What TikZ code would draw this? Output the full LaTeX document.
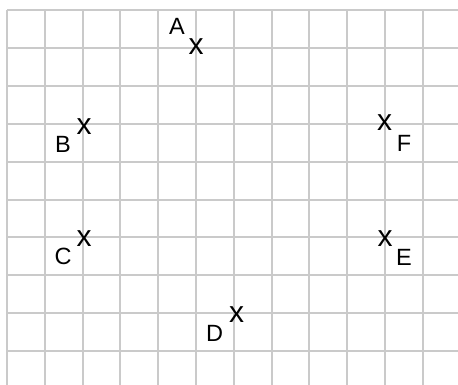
\documentclass[tikz,border=0pt]{standalone}
\usepackage{fontspec}
\setmainfont{Liberation Sans}
\definecolor{gridgray}{RGB}{202,202,202}
\begin{document}
\begin{tikzpicture}[x=1pt,y=-1pt,
  gridline/.style={draw=gridgray, line width=2pt},
  markx/.style={font=\fontsize{30}{30}\selectfont, inner sep=0pt},
  lbl/.style={font=\fontsize{23.5}{23.5}\selectfont, inner sep=0pt}]
\useasboundingbox (0,0) rectangle (458,385);
\fill[white] (0,0) rectangle (458,385);
\foreach \i in {0,...,11} \draw[gridline] (7+37.8*\i,10.5) -- (7+37.8*\i,385);
\foreach \j in {0,...,9} \draw[gridline] (7,10.5+37.8*\j) -- (458,10.5+37.8*\j);
\node[markx] (xA) at (196,47) {x};
\node[lbl] (lA) at (177,26.5) {A};
\node[markx] (xB) at (84,126.5) {x};
\node[lbl] (lB) at (63,144) {B};
\node[markx] (xF) at (384.5,123) {x};
\node[lbl] (lF) at (404,143) {F};
\node[markx] (xC) at (84,239) {x};
\node[lbl] (lC) at (63,256.5) {C};
\node[markx] (xE) at (385,238.3) {x};
\node[lbl] (lE) at (404,257) {E};
\node[markx] (xD) at (236.5,314.5) {x};
\node[lbl] (lD) at (214.5,333) {D};
\end{tikzpicture}
\end{document}
